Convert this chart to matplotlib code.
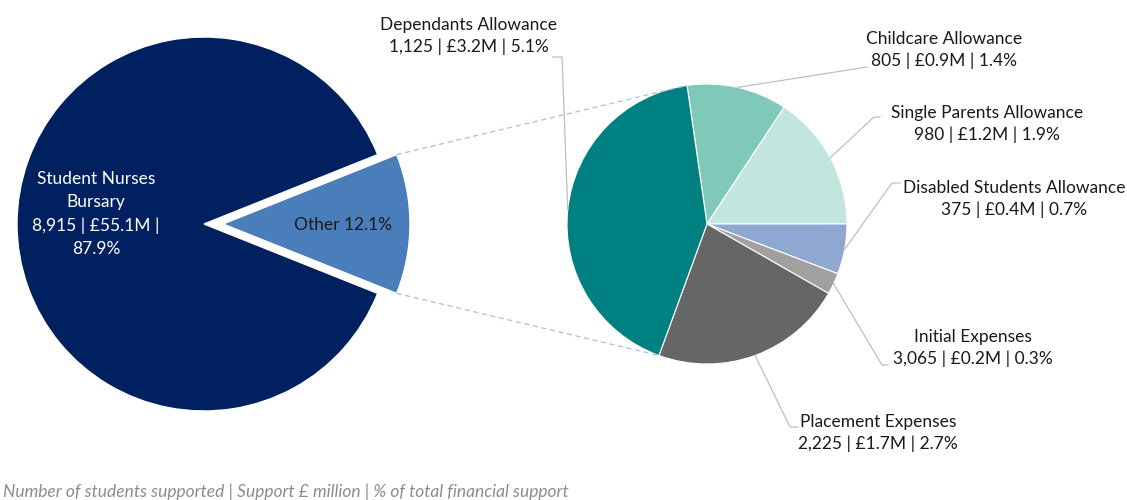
import numpy as np
import matplotlib.pyplot as plt

# ── data ──────────────────────────────────────────────────────────────────────

main_labels = ["Student Nurses\nBursary", "Other"]
main_students = ["8,915", None]
main_money = [55.1, None]
main_share = [87.9, 12.1]

other_labels = ["Childcare Allowance", "Single Parents Allowance",
                "Disabled Students Allowance", "Initial Expenses",
                "Placement Expenses", "Dependants Allowance"]
other_students = ["805", "980", "375", "3,065", "2,225", "1,125"]
other_money = [0.9, 1.2, 0.4, 0.2, 1.7, 3.2]
other_share = [1.4, 1.9, 0.7, 0.3, 2.7, 5.1]

footnote = "Number of students supported | Support £ million | % of total financial support"

# ── style ─────────────────────────────────────────────────────────────────────

main_colors = ["#002060", "#4a7ebb"]
other_colors = ["#80c8b9", "#c2e5de", "#8fa8d2", "#a0a0a0", "#666666", "#008080"]
FONT = "Lato"
FS = 12.5

W, H = 1127, 500
fig = plt.figure(figsize=(W / 100, H / 100), dpi=100)
ax = fig.add_axes([0, 0, 1, 1])
ax.set_xlim(0, W)
ax.set_ylim(0, H)
ax.set_aspect("equal")
ax.axis("off")

# pixel-style placement (y measured from top)
def py(y):
    return H - y

# ── left pie: bursary vs other ────────────────────────────────────────────────

c1 = np.array([204, py(224)])
r1 = 187
explode = 19   # data units (pixels)
other_half = main_share[1] / sum(main_share) * 180
ax.pie(main_share, colors=main_colors, center=c1, radius=r1,
       startangle=-other_half, counterclock=False, explode=[0, explode],
       wedgeprops=dict(edgecolor="white", linewidth=1), frame=True)

ax.text(96, py(214),
        f"{main_labels[0]}\n{main_students[0]} | £{main_money[0]}M |\n{main_share[0]}%",
        ha="center", va="center", color="white", fontsize=FS, family=FONT,
        linespacing=1.55)
ax.text(343, py(225), f"{main_labels[1]} {main_share[1]}%",
        ha="center", va="center", color="#1a1a1a", fontsize=FS, family=FONT)

# ── right pie: breakdown of other ─────────────────────────────────────────────

c2 = np.array([707, py(224)])
r2 = 140
start2 = 98.2
ax.pie(other_share, colors=other_colors, center=c2, radius=r2,
       startangle=start2, counterclock=False,
       wedgeprops=dict(edgecolor="white", linewidth=0.8), frame=True)

# connector lines between the exploded slice and the breakdown pie
oc = c1 + np.array([explode, 0])
end2 = start2 - sum(other_share[:-1]) / sum(other_share) * 360
for a1, a2 in [(other_half, start2), (-other_half, end2)]:
    p1 = oc + r1 * np.array([np.cos(np.radians(a1)), np.sin(np.radians(a1))])
    p2 = c2 + r2 * np.array([np.cos(np.radians(a2)), np.sin(np.radians(a2))])
    ax.plot([p1[0], p2[0]], [p1[1], p2[1]], color="#a9bfe0",
            linewidth=0.9, linestyle=(0, (4, 3)))

# label positions (text centre) and leader elbows
label_pos = [(944, 50), (987, 124), (1014, 199), (973, 348), (878, 433), (469, 36)]
elbows = [(867, 67), (880, 117), (900, 183), (888, 365), (798, 427), (553, 57)]
elbow_dx = [0, -6, -8, -6, -8, 9]

cum = np.cumsum([0] + other_share)
total = sum(other_share)
for i, lab in enumerate(other_labels):
    mid = start2 - (cum[i] + other_share[i] / 2) / total * 360
    p = c2 + r2 * np.array([np.cos(np.radians(mid)), np.sin(np.radians(mid))])
    ex, ey = elbows[i]
    if elbow_dx[i]:
        xs = [ex, ex + elbow_dx[i], p[0]]
        ys = [py(ey), py(ey), p[1]]
    else:
        xs = [ex, p[0]]
        ys = [py(ey), p[1]]
    ax.plot(xs, ys, color="#bfbfbf", linewidth=0.9)
    lx, ly = label_pos[i]
    ax.text(lx, py(ly),
            f"{lab}\n{other_students[i]} | £{other_money[i]}M | {other_share[i]}%",
            ha="center", va="center", color="#1a1a1a", fontsize=FS,
            family=FONT, linespacing=1.35)

ax.text(3, py(492), footnote, ha="left", va="center", color="#8c8c8c",
        fontsize=FS, family=FONT, style="italic")

fig.savefig("out.png", dpi=100)
